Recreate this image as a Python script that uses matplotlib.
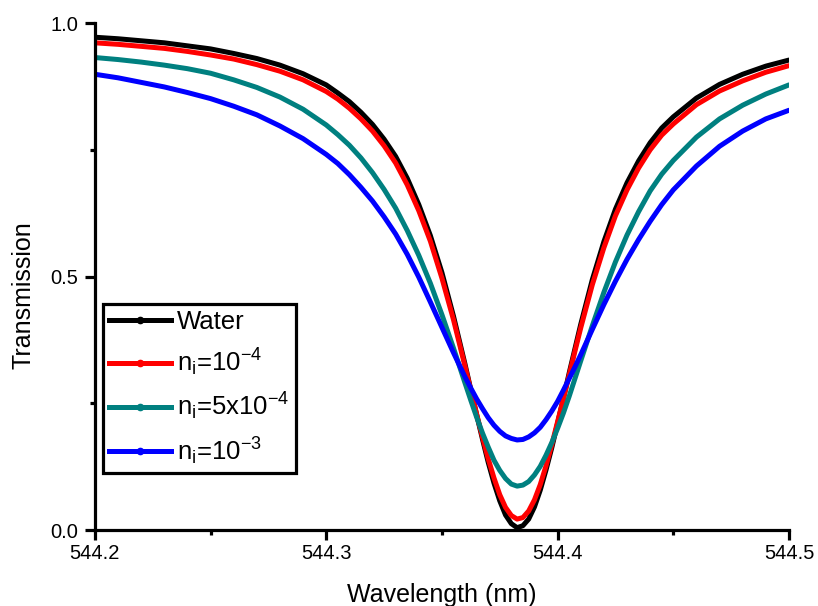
import matplotlib
matplotlib.use("Agg")
import matplotlib.pyplot as plt
from matplotlib.lines import Line2D
from matplotlib.ticker import MultipleLocator, FormatStrFormatter

plt.rcParams['font.family'] = ['Liberation Sans', 'DejaVu Sans']
plt.rcParams['mathtext.fontset'] = 'custom'
plt.rcParams['mathtext.rm'] = 'Liberation Sans'
plt.rcParams['mathtext.it'] = 'Liberation Sans'

# wavelength samples (nm), transmission values
wavelength = [544.200, 544.210, 544.220, 544.230, 544.240, 544.250, 544.260,
              544.270, 544.280, 544.290, 544.300, 544.305, 544.310, 544.315,
              544.320, 544.325, 544.330, 544.335, 544.340, 544.345, 544.350,
              544.355, 544.360, 544.3625, 544.365, 544.3675, 544.370, 544.3725,
              544.375, 544.3775, 544.380, 544.3825,
              544.385, 544.3875, 544.390, 544.3925, 544.395, 544.3975, 544.400,
              544.4025, 544.405, 544.4075, 544.410, 544.415, 544.420, 544.425,
              544.430, 544.435, 544.440, 544.445, 544.450, 544.460, 544.470,
              544.480, 544.490, 544.500]

water = [0.972, 0.969, 0.965, 0.961, 0.955, 0.949, 0.940, 0.930, 0.917, 0.900,
         0.878, 0.862, 0.845, 0.824, 0.800, 0.771, 0.737, 0.694, 0.642, 0.581,
         0.508, 0.422, 0.327, 0.277, 0.228, 0.180, 0.134, 0.093, 0.058, 0.030,
         0.013, 0.005,
         0.009, 0.022, 0.046, 0.079, 0.119, 0.163, 0.211, 0.260, 0.310, 0.358,
         0.406, 0.494, 0.569, 0.633, 0.685, 0.728, 0.764, 0.793, 0.815, 0.852,
         0.879, 0.899, 0.915, 0.927]

ni_1e4 = [0.961, 0.958, 0.954, 0.950, 0.944, 0.937, 0.929, 0.918, 0.905, 0.888,
          0.865, 0.850, 0.832, 0.811, 0.787, 0.758, 0.724, 0.681, 0.630, 0.570,
          0.497, 0.415, 0.323, 0.276, 0.229, 0.184, 0.141, 0.103, 0.070, 0.045,
          0.029, 0.022,
          0.025, 0.038, 0.060, 0.090, 0.127, 0.169, 0.214, 0.259, 0.306, 0.353,
          0.399, 0.484, 0.557, 0.620, 0.671, 0.714, 0.750, 0.779, 0.801, 0.839,
          0.866, 0.886, 0.903, 0.916]

ni_5e4 = [0.932, 0.928, 0.923, 0.917, 0.910, 0.901, 0.888, 0.873, 0.854, 0.830,
          0.799, 0.780, 0.759, 0.734, 0.705, 0.672, 0.635, 0.591, 0.542, 0.487,
          0.425, 0.359, 0.290, 0.256, 0.223, 0.192, 0.164, 0.138, 0.118, 0.102,
          0.091, 0.087,
          0.089, 0.096, 0.109, 0.126, 0.148, 0.173, 0.201, 0.231, 0.264, 0.299,
          0.334, 0.403, 0.469, 0.529, 0.582, 0.628, 0.669, 0.702, 0.729, 0.775,
          0.811, 0.838, 0.860, 0.878]

ni_1e3 = [0.899, 0.892, 0.883, 0.874, 0.863, 0.851, 0.836, 0.819, 0.797, 0.772,
          0.741, 0.723, 0.701, 0.676, 0.649, 0.618, 0.584, 0.544, 0.499, 0.450,
          0.400, 0.350, 0.302, 0.280, 0.259, 0.240, 0.222, 0.207, 0.195, 0.186,
          0.181, 0.178,
          0.179, 0.184, 0.192, 0.203, 0.218, 0.235, 0.254, 0.276, 0.299, 0.322,
          0.346, 0.396, 0.445, 0.491, 0.534, 0.573, 0.609, 0.642, 0.671, 0.718,
          0.757, 0.787, 0.811, 0.828]

series = [water, ni_1e4, ni_5e4, ni_1e3]
labels = ['Water',
          r'n$_{\mathregular{i}}$=10$^{\mathregular{-4}}$',
          r'n$_{\mathregular{i}}$=5x10$^{\mathregular{-4}}$',
          r'n$_{\mathregular{i}}$=10$^{\mathregular{-3}}$']
colors = ['#000000', '#ff0000', '#008080', '#0000ff']

fig = plt.figure(figsize=(8.18, 6.06), dpi=100)
ax = fig.add_axes([0.116, 0.125, 0.8485, 0.837])

for ys, c in zip(series, colors):
    ax.plot(wavelength, ys, color=c, lw=3.6, solid_joinstyle='round',
            solid_capstyle='round')

ax.set_xlim(544.2, 544.5)
ax.set_ylim(0, 1.0)

ax.spines['top'].set_visible(False)
ax.spines['right'].set_visible(False)
for s in ('left', 'bottom'):
    ax.spines[s].set_linewidth(2.3)

ax.xaxis.set_major_locator(MultipleLocator(0.1))
ax.xaxis.set_minor_locator(MultipleLocator(0.05))
ax.yaxis.set_major_locator(MultipleLocator(0.5))
ax.yaxis.set_minor_locator(MultipleLocator(0.25))
ax.xaxis.set_major_formatter(FormatStrFormatter('%.1f'))
ax.yaxis.set_major_formatter(FormatStrFormatter('%.1f'))
ax.tick_params(which='major', direction='out', length=7, width=2.3,
               labelsize=14.5)
ax.tick_params(axis='x', which='major', pad=3)
ax.tick_params(axis='y', which='major', pad=5)
ax.tick_params(which='minor', direction='out', length=3.5, width=2.3)

ax.set_xlabel('Wavelength (nm)', fontsize=18)
ax.set_ylabel('Transmission', fontsize=18)
ax.xaxis.set_label_coords(0.5, -0.104)
ax.yaxis.set_label_coords(-0.085, 0.4635)

handles = [Line2D([], [], color=c, lw=3.6, marker='o', markersize=4.5)
           for c in colors]
leg = ax.legend(handles, labels, loc='upper left',
                bbox_to_anchor=(0.0115, 0.447), borderaxespad=0,
                fontsize=18.5, handlelength=2.4, handletextpad=0.25,
                labelspacing=0.5, borderpad=0.25, fancybox=False,
                frameon=True, framealpha=1, edgecolor='black')
leg.get_frame().set_linewidth(2.3)

fig.savefig('out.png', dpi=100)
